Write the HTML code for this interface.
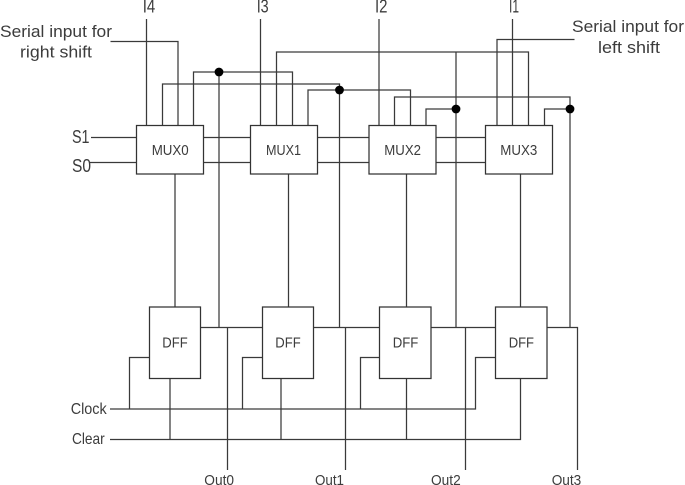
<!DOCTYPE html>
<html>
<head>
<meta charset="utf-8">
<style>
html,body{margin:0;padding:0;background:#fff;width:685px;height:485px;overflow:hidden}
svg{display:block}
text{font-family:"Liberation Sans",sans-serif;fill:#3c3c3c}
</style>
</head>
<body>
<svg width="685" height="485" viewBox="0 0 685 485" xmlns="http://www.w3.org/2000/svg">
<g fill="none" stroke="#3a3a3a" stroke-width="1.25">
<!-- select lines -->
<path d="M91 137.5H136.5M203.5 137.5H250.5M317.5 137.5H369M436 137.5H485.5"/>
<path d="M90 162.5H136.5M203.5 162.5H250.5M317.5 162.5H369M436 162.5H485.5"/>
<!-- inputs -->
<path d="M146.5 19V125.5M260.5 19V125.5M379 19V125.5M512.5 19V125.5"/>
<path d="M110.5 41.5H178V125.5"/>
<path d="M574.5 39.5H497V125.5"/>
<!-- feedback -->
<path d="M193.5 125.5V72H292.5V125.5"/>
<path d="M219 72V327.5"/>
<path d="M162.5 125.5V84H339.5V327.5"/>
<path d="M308 125.5V90H410.5V125.5"/>
<path d="M276.5 125.5V52H528.5V125.5"/>
<path d="M456 52V327.5"/>
<path d="M426 125.5V109H456"/>
<path d="M394.5 125.5V97H570V327.5"/>
<path d="M544.5 125.5V109H570"/>
<!-- mux to dff -->
<path d="M175 174V307M288.5 174V307M406.5 174V307M520.5 174V307"/>
<!-- Q lines -->
<path d="M200.5 327.5H262.5M313.5 327.5H379.5M431 327.5H495.5M547 327.5H577.5V470"/>
<path d="M227.5 327.5V470M345.5 327.5V470M465.5 327.5V470"/>
<!-- clock -->
<path d="M110 409H475.5V357.5H495.5"/>
<path d="M129.5 409V357.5H149.5M242.5 409V357.5H262.5M360.5 409V357.5H379.5"/>
<!-- clear -->
<path d="M110 439.5H520.5V378.5"/>
<path d="M170 378.5V439.5M281 378.5V439.5M406.5 378.5V439.5"/>
<!-- boxes -->
<g fill="#fff" stroke="#333">
<rect x="136.5" y="125.5" width="67" height="48.5"/>
<rect x="250.5" y="125.5" width="67" height="48.5"/>
<rect x="369" y="125.5" width="67" height="48.5"/>
<rect x="485.5" y="125.5" width="67" height="48.5"/>
<rect x="149.5" y="307" width="51" height="71.5"/>
<rect x="262.5" y="307" width="51" height="71.5"/>
<rect x="379.5" y="307" width="51.5" height="71.5"/>
<rect x="495.5" y="307" width="51.5" height="71.5"/>
</g>
</g>
<g fill="#000">
<circle cx="219" cy="72" r="4.4"/>
<circle cx="339.5" cy="90" r="4.4"/>
<circle cx="456" cy="109" r="4.4"/>
<circle cx="570" cy="109" r="4.4"/>
</g>
<g font-size="18">
<text x="142.7" y="12.5" textLength="12.5" lengthAdjust="spacingAndGlyphs">I4</text>
<text x="256.7" y="12.5" textLength="12" lengthAdjust="spacingAndGlyphs">I3</text>
<text x="375" y="12.5" textLength="12.5" lengthAdjust="spacingAndGlyphs">I2</text>
<text x="509" y="12.5" textLength="10" lengthAdjust="spacingAndGlyphs">I1</text>
<text x="72" y="143" textLength="17.5" lengthAdjust="spacingAndGlyphs">S1</text>
<text x="72" y="172" textLength="19" lengthAdjust="spacingAndGlyphs">S0</text>
</g>
<g font-size="17">
<text x="0" y="37" textLength="112" lengthAdjust="spacingAndGlyphs">Serial input for</text>
<text x="20" y="57.5" textLength="72" lengthAdjust="spacingAndGlyphs">right shift</text>
<text x="572" y="32" textLength="112" lengthAdjust="spacingAndGlyphs">Serial input for</text>
<text x="598" y="53" textLength="62" lengthAdjust="spacingAndGlyphs">left shift</text>
</g>
<g font-size="15">
<text x="151.7" y="155" textLength="37" lengthAdjust="spacingAndGlyphs">MUX0</text>
<text x="266" y="155" textLength="35" lengthAdjust="spacingAndGlyphs">MUX1</text>
<text x="384.3" y="155" textLength="36.7" lengthAdjust="spacingAndGlyphs">MUX2</text>
<text x="500.3" y="155" textLength="37" lengthAdjust="spacingAndGlyphs">MUX3</text>
<text x="162.3" y="347.5" textLength="25.4" lengthAdjust="spacingAndGlyphs">DFF</text>
<text x="275.3" y="347.5" textLength="25.4" lengthAdjust="spacingAndGlyphs">DFF</text>
<text x="392.7" y="347.5" textLength="25.6" lengthAdjust="spacingAndGlyphs">DFF</text>
<text x="508.7" y="347.5" textLength="25.3" lengthAdjust="spacingAndGlyphs">DFF</text>
<text x="204.3" y="485" textLength="29.7" lengthAdjust="spacingAndGlyphs">Out0</text>
<text x="315" y="485" textLength="29" lengthAdjust="spacingAndGlyphs">Out1</text>
<text x="431" y="485" textLength="29.7" lengthAdjust="spacingAndGlyphs">Out2</text>
<text x="551.7" y="485" textLength="29.6" lengthAdjust="spacingAndGlyphs">Out3</text>
<text x="70.7" y="414" textLength="36" lengthAdjust="spacingAndGlyphs" font-size="16">Clock</text>
<text x="72" y="444" textLength="32.7" lengthAdjust="spacingAndGlyphs" font-size="16">Clear</text>
</g>
</svg>
</body>
</html>
